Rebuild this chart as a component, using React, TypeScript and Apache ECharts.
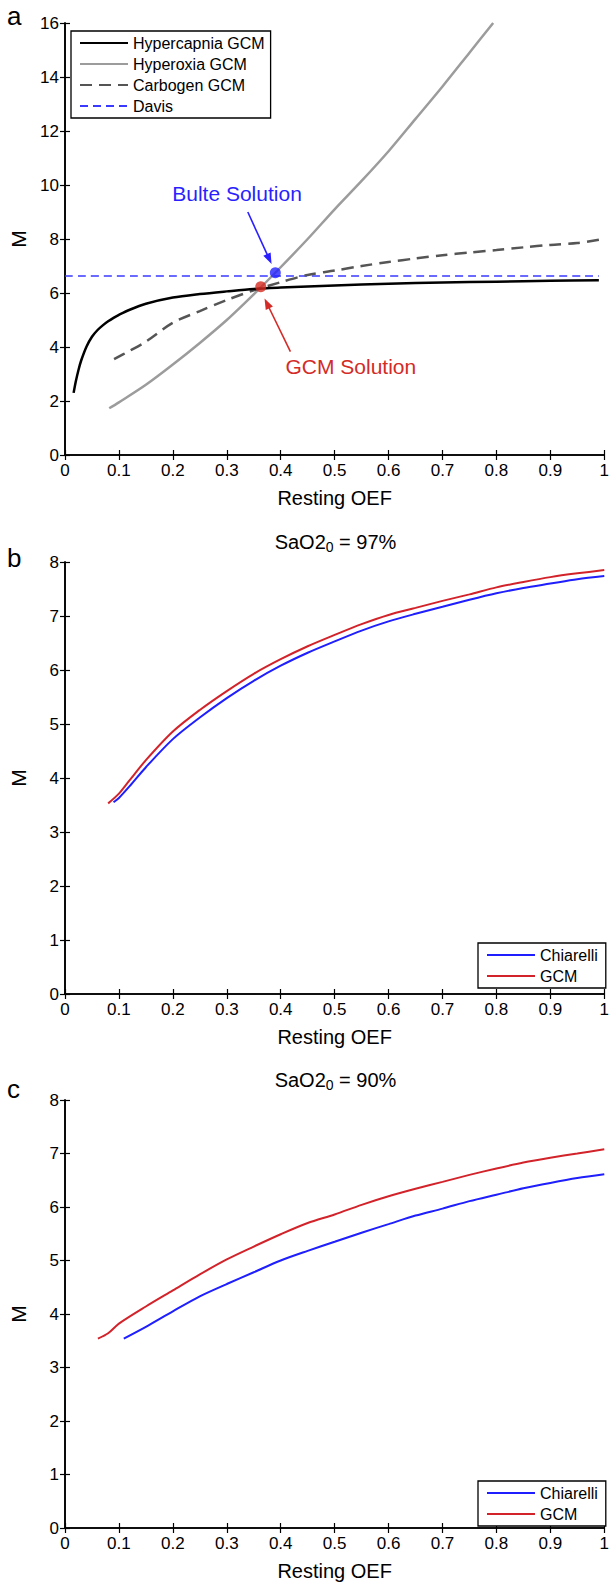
import React, { useEffect, useRef } from "react";
import * as echarts from "echarts";

const FONT = '"Liberation Sans", Arial, Helvetica, sans-serif';

// Panel a
const hypercapnia: [number, number][] = [
  [0.016, 2.3], [0.02, 2.72], [0.025, 3.15], [0.03, 3.5], [0.04, 4.02], [0.05, 4.38], [0.06, 4.62],
  [0.07, 4.8], [0.08, 4.95], [0.09, 5.08], [0.1, 5.19], [0.12, 5.38], [0.15, 5.6], [0.2, 5.83],
  [0.25, 5.96], [0.3, 6.06], [0.35, 6.15], [0.4, 6.2], [0.5, 6.28], [0.6, 6.34], [0.7, 6.39],
  [0.8, 6.42], [0.9, 6.45], [0.99, 6.47],
];
const hyperoxia: [number, number][] = [
  [0.082, 1.73], [0.1, 1.95], [0.15, 2.6], [0.2, 3.35], [0.25, 4.15], [0.3, 5.0], [0.35, 5.95],
  [0.39, 6.75], [0.45, 8.0], [0.5, 9.1], [0.55, 10.15], [0.6, 11.25], [0.65, 12.45], [0.7, 13.65],
  [0.75, 14.9], [0.794, 16.0],
];
const carbogen: [number, number][] = [
  [0.091, 3.55], [0.12, 3.86], [0.15, 4.2], [0.2, 4.9], [0.25, 5.33], [0.3, 5.74], [0.35, 6.1],
  [0.4, 6.4], [0.45, 6.67], [0.5, 6.83], [0.55, 7.0], [0.6, 7.15], [0.65, 7.28], [0.7, 7.4],
  [0.75, 7.5], [0.8, 7.59], [0.85, 7.69], [0.9, 7.78], [0.95, 7.85], [0.99, 7.97],
];
const davis: [number, number][] = [[0, 6.63], [0.99, 6.63]];
const bultePoint: [number, number][] = [[0.39, 6.75]];
const gcmPoint: [number, number][] = [[0.363, 6.23]];
const bulteArrow: [number, number][] = [[0.339, 9.0], [0.383, 7.07]];
const gcmArrow: [number, number][] = [[0.418, 3.83], [0.37, 5.8]];
const annotations = [
  { text: "Bulte Solution", at: [0.319, 9.7], color: "#2a1fff", arrow: bulteArrow },
  { text: "GCM Solution", at: [0.53, 3.26], color: "#d42b27", arrow: gcmArrow },
];

// Panel b (SaO2_0 = 97%)
const chiarelliB: [number, number][] = [
  [0.09, 3.55], [0.1, 3.63], [0.12, 3.85], [0.15, 4.2], [0.2, 4.72], [0.25, 5.12], [0.3, 5.48],
  [0.35, 5.8], [0.4, 6.08], [0.45, 6.32], [0.5, 6.53], [0.55, 6.73], [0.6, 6.9], [0.65, 7.04],
  [0.7, 7.17], [0.75, 7.3], [0.8, 7.42], [0.85, 7.52], [0.9, 7.6], [0.95, 7.68], [1.0, 7.74],
];
const gcmB: [number, number][] = [
  [0.08, 3.53], [0.1, 3.71], [0.12, 3.96], [0.15, 4.33], [0.2, 4.86], [0.25, 5.26], [0.3, 5.61],
  [0.35, 5.93], [0.4, 6.2], [0.45, 6.44], [0.5, 6.65], [0.55, 6.85], [0.6, 7.02], [0.65, 7.15],
  [0.7, 7.28], [0.75, 7.4], [0.8, 7.53], [0.85, 7.63], [0.9, 7.72], [0.95, 7.79], [1.0, 7.85],
];

// Panel c (SaO2_0 = 90%)
const chiarelliC: [number, number][] = [
  [0.109, 3.54], [0.15, 3.76], [0.2, 4.05], [0.25, 4.33], [0.3, 4.56], [0.35, 4.78], [0.4, 5.0],
  [0.45, 5.18], [0.5, 5.35], [0.55, 5.52], [0.6, 5.68], [0.65, 5.84], [0.7, 5.97], [0.75, 6.11],
  [0.8, 6.23], [0.85, 6.35], [0.9, 6.45], [0.95, 6.54], [1.0, 6.61],
];
const gcmC: [number, number][] = [
  [0.061, 3.54], [0.08, 3.64], [0.1, 3.82], [0.15, 4.14], [0.2, 4.44], [0.25, 4.74], [0.3, 5.02],
  [0.35, 5.26], [0.4, 5.49], [0.45, 5.7], [0.5, 5.86], [0.55, 6.04], [0.6, 6.2], [0.65, 6.34],
  [0.7, 6.47], [0.75, 6.6], [0.8, 6.72], [0.85, 6.83], [0.9, 6.92], [0.95, 7.0], [1.0, 7.08],
];

const panelLabels = ["a", "b", "c"];
const panelTitles = ["", "97%", "90%"];
const yMax = [16, 8, 8];
const yInterval = [2, 1, 1];
const xLabel = "Resting OEF";
const yLabel = "M";

const GRID_LEFT = 63.5;
const GRID_WIDTH = 544;
const GRID_TOPS = [23, 562, 1100];
const GRID_HEIGHT = 432;

const BLUE = "#1e1eff";
const RED = "#d2232a";

export default function App() {
  const ref = useRef<HTMLDivElement>(null);
  useEffect(() => {
    if (!ref.current) return;
    const chart = echarts.init(ref.current, null, { renderer: "svg" });
    const axisLine = { show: true, lineStyle: { color: "#000", width: 1.6 } };
    const tick = { show: true, inside: true, length: 5, lineStyle: { color: "#000", width: 1.2 } };
    const xAxes: any[] = [];
    const yAxes: any[] = [];
    const grids: any[] = [];
    for (let i = 0; i < 3; i++) {
      grids.push({ left: GRID_LEFT, top: GRID_TOPS[i], width: GRID_WIDTH, height: GRID_HEIGHT });
      xAxes.push({
        type: "value", gridIndex: i, min: 0, max: 1, interval: 0.1, position: "bottom",
        axisLine, axisTick: tick, splitLine: { show: false },
        axisLabel: {
          margin: 7, color: "#000", fontSize: 17, fontFamily: FONT,
          formatter: (v: number) => String(+v.toFixed(1)),
        },
        name: xLabel, nameLocation: "middle", nameGap: 33,
        nameTextStyle: { color: "#000", fontSize: 20, fontFamily: FONT },
      });
      xAxes.push({
        type: "value", gridIndex: i, min: 0, max: 1, interval: 0.1, position: "top",
        axisLine, axisTick: tick, axisLabel: { show: false }, splitLine: { show: false },
      });
      yAxes.push({
        type: "value", gridIndex: i, min: 0, max: yMax[i], interval: yInterval[i], position: "left",
        axisLine, axisTick: tick, splitLine: { show: false },
        axisLabel: { margin: 6, color: "#000", fontSize: 17, fontFamily: FONT },
        name: yLabel, nameLocation: "middle", nameGap: 36,
        nameTextStyle: { color: "#000", fontSize: 21, fontFamily: FONT },
      });
      yAxes.push({
        type: "value", gridIndex: i, min: 0, max: yMax[i], interval: yInterval[i], position: "right",
        axisLine, axisTick: tick, axisLabel: { show: false }, splitLine: { show: false },
      });
    }
    const line = (name: string, data: any, idx: number, color: string, width: number, type: any = "solid") => ({
      type: "line", name, data, xAxisIndex: idx * 2, yAxisIndex: idx * 2,
      showSymbol: false, symbol: "none", smooth: 0.3, clip: true,
      lineStyle: { color, width, type }, itemStyle: { color },
    });
    const legendBase = {
      orient: "vertical", backgroundColor: "#fff", borderColor: "#000", borderWidth: 1.3,
      itemWidth: 48, itemHeight: 14, itemGap: 5, selectedMode: false,
      itemStyle: { opacity: 0 },
      textStyle: { color: "#000", fontSize: 16, fontFamily: FONT },
    };
    chart.setOption({
      animation: false,
      grid: grids,
      xAxis: xAxes,
      yAxis: yAxes,
      legend: [
        { ...legendBase, left: 71, top: 31, padding: [4, 6, 4, 8],
          data: ["Hypercapnia GCM", "Hyperoxia GCM", "Carbogen GCM", "Davis"] },
        { ...legendBase, left: 478, top: 943, padding: [4, 8, 4, 8], data: ["Chiarelli", "GCM"] },
        { ...legendBase, left: 478, top: 1481, padding: [4, 8, 4, 8], data: ["Chiarelli", "GCM"] },
      ],
      series: [
        line("Davis", davis, 0, "#3a3aff", 1.3, [8, 5]),
        line("Hyperoxia GCM", hyperoxia, 0, "#9c9c9c", 2.5),
        line("Carbogen GCM", carbogen, 0, "#555555", 2.5, [12, 7]),
        line("Hypercapnia GCM", hypercapnia, 0, "#000000", 2.5),
        {
          type: "scatter", name: "bulte", data: bultePoint, xAxisIndex: 0, yAxisIndex: 0,
          symbolSize: 11, itemStyle: { color: "#2222ff" }, z: 5,
        },
        {
          type: "scatter", name: "gcmsol", data: gcmPoint, xAxisIndex: 0, yAxisIndex: 0,
          symbolSize: 11, itemStyle: { color: "#d42b1f" }, z: 5,
        },
        line("Chiarelli", chiarelliB, 1, BLUE, 2),
        line("GCM", gcmB, 1, RED, 2),
        line("Chiarelli", chiarelliC, 2, BLUE, 2),
        line("GCM", gcmC, 2, RED, 2),
      ],
    });
    const graphics: any[] = [];
    const toPx = (v: number[]) => chart.convertToPixel({ xAxisIndex: 0, yAxisIndex: 0 } as any, v) as number[];
    annotations.forEach((a) => {
      const p = toPx(a.at);
      graphics.push({
        type: "text", x: p[0], y: p[1],
        style: { text: a.text, fill: a.color, fontSize: 21, fontFamily: FONT, align: "center", verticalAlign: "middle" },
      });
      const t = toPx(a.arrow[0]);
      const h = toPx(a.arrow[1]);
      const dx = h[0] - t[0];
      const dy = h[1] - t[1];
      const len = Math.sqrt(dx * dx + dy * dy);
      const ux = dx / len;
      const uy = dy / len;
      const hl = 11;
      const hw = 4;
      const bx = h[0] - ux * hl;
      const by = h[1] - uy * hl;
      graphics.push({
        type: "line", z: 10,
        shape: { x1: t[0], y1: t[1], x2: bx + ux * 2, y2: by + uy * 2 },
        style: { stroke: a.color, lineWidth: 1.6 },
      });
      graphics.push({
        type: "polygon", z: 10,
        shape: { points: [[h[0], h[1]], [bx - uy * hw, by + ux * hw], [bx + uy * hw, by - ux * hw]] },
        style: { fill: a.color },
      });
    });
    const letterY = [16, 558, 1089];
    panelLabels.forEach((l, i) => {
      graphics.push({
        type: "text", x: 7, y: letterY[i],
        style: { text: l, fill: "#000", fontSize: 26, fontFamily: FONT, align: "left", verticalAlign: "middle" },
      });
      if (panelTitles[i]) {
        graphics.push({
          type: "text", x: GRID_LEFT + GRID_WIDTH / 2, y: GRID_TOPS[i] - 20,
          style: {
            text: "{a|SaO2}{s|0}{a| = " + panelTitles[i] + "}",
            align: "center", verticalAlign: "middle",
            rich: {
              a: { fontSize: 20, fontFamily: FONT, fill: "#000", lineHeight: 20, verticalAlign: "top" },
              s: { fontSize: 14, fontFamily: FONT, fill: "#000", lineHeight: 14, padding: [10, 0, 0, 0] },
            },
          },
        });
      }
    });
    chart.setOption({ graphic: graphics });
    return () => chart.dispose();
  }, []);
  return (
    <div
      ref={ref}
      style={{ position: "absolute", left: 0, top: 0, width: 612, height: 1582, background: "#fff" }}
    />
  );
}
